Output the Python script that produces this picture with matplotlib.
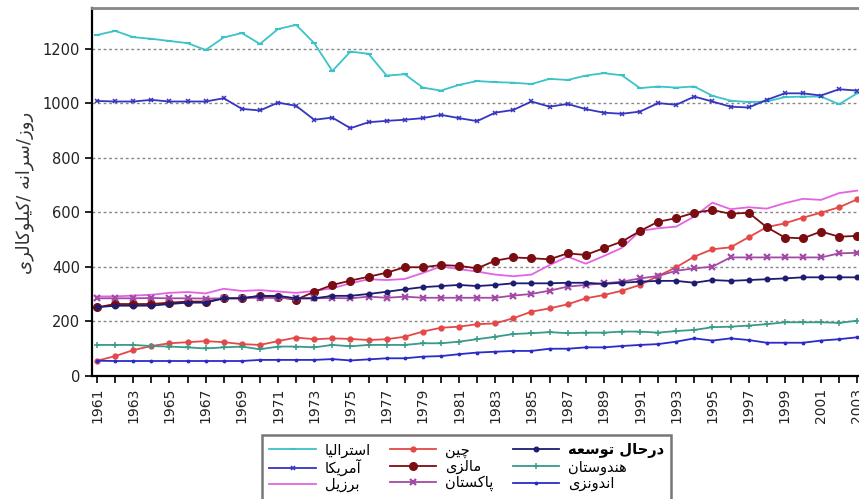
import matplotlib
matplotlib.use("Agg")
import matplotlib.pyplot as plt
from matplotlib.ticker import MultipleLocator

# --- data (kcal / capita / day) ---
years = list(range(1961, 2004))

australia = [1251, 1266, 1243, 1237, 1229, 1221, 1196, 1242, 1258, 1218,
             1273, 1288, 1221, 1119, 1190, 1182, 1102, 1107, 1058, 1047,
             1068, 1082, 1078, 1076, 1071, 1090, 1086, 1102, 1111, 1103,
             1056, 1062, 1058, 1062, 1028, 1010, 1005, 1007, 1023, 1025,
             1025, 997, 1037]
usa = [1009, 1007, 1007, 1013, 1007, 1007, 1007, 1019, 980, 974,
       1003, 991, 940, 948, 909, 931, 936, 940, 946, 958,
       946, 935, 966, 976, 1007, 988, 998, 979, 966, 962,
       970, 1001, 995, 1025, 1007, 988, 985, 1013, 1037, 1037,
       1029, 1052, 1047]
brazil = [292, 292, 295, 298, 305, 308, 303, 320, 312, 315,
          310, 305, 312, 322, 340, 355, 352, 356, 378, 402,
          392, 383, 372, 366, 372, 407, 438, 412, 440, 470,
          532, 542, 548, 585, 636, 612, 619, 614, 634, 650,
          646, 671, 680]
china = [56, 73, 95, 110, 120, 124, 128, 124, 117, 114,
         128, 141, 135, 138, 136, 132, 135, 144, 163, 177,
         181, 190, 193, 212, 236, 248, 263, 285, 297, 313,
         334, 367, 399, 438, 465, 472, 509, 546, 560, 581,
         599, 619, 648]
malaysia = [252, 264, 264, 264, 269, 273, 273, 285, 285, 294,
            289, 280, 309, 334, 350, 364, 379, 399, 399, 407,
            404, 395, 423, 435, 432, 428, 450, 444, 469, 493,
            532, 566, 579, 599, 609, 595, 599, 546, 508, 505,
            530, 511, 514]
pakistan = [285, 285, 285, 286, 285, 285, 284, 285, 286, 287,
            286, 285, 285, 286, 285, 291, 287, 291, 287, 287,
            287, 287, 287, 295, 301, 313, 328, 334, 340, 346,
            358, 367, 386, 395, 401, 435, 435, 435, 435, 435,
            435, 450, 452]
developing = [252, 258, 258, 258, 264, 269, 269, 285, 285, 294,
              294, 285, 285, 294, 294, 301, 309, 318, 326, 330,
              334, 330, 334, 340, 340, 340, 342, 342, 338, 342,
              346, 349, 349, 342, 352, 349, 352, 355, 358, 362,
              362, 362, 362]
india = [114, 114, 114, 110, 108, 105, 101, 105, 108, 98,
         108, 108, 105, 114, 109, 114, 114, 114, 120, 120,
         126, 135, 144, 154, 157, 161, 157, 159, 159, 163,
         163, 159, 165, 169, 179, 181, 185, 190, 197, 197,
         197, 195, 203]
indonesia = [56, 55, 55, 55, 55, 55, 55, 55, 55, 59,
             59, 59, 59, 62, 57, 61, 65, 65, 71, 73,
             80, 86, 89, 92, 92, 100, 100, 105, 105, 110,
             114, 117, 126, 138, 130, 138, 132, 122, 122, 122,
             130, 135, 142]

names = ['استرالیا', 'آمریکا', 'برزیل', 'چین', 'مالزی', 'پاکستان',
         'درحال توسعه', 'هندوستان', 'اندونزی']
ylabel = 'روز/سرانه /کیلوکالری'

# --- minimal Persian shaping (matplotlib has no bidi / joining) ---
FORMS = {
    'ا': ('\uFE8D', '\uFE8E', None, None),
    'آ': ('\uFE81', '\uFE82', None, None),
    'ب': ('\uFE8F', '\uFE90', '\uFE91', '\uFE92'),
    'پ': ('\uFB56', '\uFB57', '\uFB58', '\uFB59'),
    'ت': ('\uFE95', '\uFE96', '\uFE97', '\uFE98'),
    'ح': ('\uFEA1', '\uFEA2', '\uFEA3', '\uFEA4'),
    'چ': ('\uFB7A', '\uFB7B', '\uFB7C', '\uFB7D'),
    'د': ('\uFEA9', '\uFEAA', None, None),
    'ر': ('\uFEAD', '\uFEAE', None, None),
    'ز': ('\uFEAF', '\uFEB0', None, None),
    'س': ('\uFEB1', '\uFEB2', '\uFEB3', '\uFEB4'),
    'ع': ('\uFEC9', '\uFECA', '\uFECB', '\uFECC'),
    'ک': ('\uFB8E', '\uFB8F', '\uFB90', '\uFB91'),
    'ل': ('\uFEDD', '\uFEDE', '\uFEDF', '\uFEE0'),
    'م': ('\uFEE1', '\uFEE2', '\uFEE3', '\uFEE4'),
    'ن': ('\uFEE5', '\uFEE6', '\uFEE7', '\uFEE8'),
    'ه': ('\uFEE9', '\uFEEA', '\uFEEB', '\uFEEC'),
    'و': ('\uFEED', '\uFEEE', None, None),
    'ی': ('\uFBFC', '\uFBFD', '\uFBFE', '\uFBFF'),
}
RIGHT_ONLY = set('اآدذرزژو')


def fa(s):
    out = []
    for i, ch in enumerate(s):
        if ch not in FORMS:
            out.append(ch)
            continue
        prev = s[i - 1] if i > 0 else ''
        nxt = s[i + 1] if i + 1 < len(s) else ''
        jp = prev in FORMS and prev not in RIGHT_ONLY
        jn = nxt in FORMS and ch not in RIGHT_ONLY
        iso, fin, ini, med = FORMS[ch]
        if jp and jn:
            out.append(med)
        elif jp:
            out.append(fin)
        elif jn:
            out.append(ini)
        else:
            out.append(iso)
    return ''.join(reversed(out))


plt.rcParams['font.family'] = ['DejaVu Sans']

fig = plt.figure(figsize=(8.59, 4.99), dpi=100)
ax = fig.add_axes([92 / 859, 123 / 499, 767 / 859, 368 / 499])

series = [
    (australia, dict(color='#3cc3c9', marker='_', ms=4, mew=1.5)),
    (usa, dict(color='#3535c0', marker='x', ms=3.5, mew=1.1)),
    (brazil, dict(color='#e463e4', marker=None)),
    (china, dict(color='#e54848', marker='o', ms=3.5)),
    (malaysia, dict(color='#7a0d12', marker='o', ms=5.5)),
    (pakistan, dict(color='#a14aa6', marker='x', ms=5, mew=1.6)),
    (developing, dict(color='#1c1c70', marker='o', ms=3.3)),
    (india, dict(color='#399a88', marker='+', ms=4.5, mew=1.1)),
    (indonesia, dict(color='#2b2bc8', marker='.', ms=3.5)),
]

handles = []
for (vals, st), name in zip(series, names):
    h, = ax.plot(years, vals, lw=1.3, label=fa(name), **st)
    handles.append(h)

ax.set_xlim(1960.72, 2003.1)
ax.set_ylim(0, 1350)
ax.set_yticks(range(0, 1201, 200))
ax.set_xticks(range(1961, 2004, 2))
ax.xaxis.set_minor_locator(MultipleLocator(1))
ax.tick_params(axis='x', which='both', direction='out', length=5, width=1.2,
               labelrotation=90, labelsize=10)
ax.tick_params(axis='y', direction='out', length=5, width=1.2, labelsize=10.5)
for lab in ax.get_xticklabels() + ax.get_yticklabels():
    lab.set_color('#222222')

ax.grid(axis='y', color='#888888', linestyle=(0, (2, 2)), linewidth=1)
ax.set_axisbelow(True)

ax.spines['left'].set_linewidth(1.6)
ax.spines['bottom'].set_linewidth(1.6)
ax.spines['right'].set_visible(False)
ax.spines['top'].set_color('#888888')
ax.spines['top'].set_linewidth(2)

fig.text(25 / 859, 1 - 193 / 499, fa(ylabel), rotation=90, fontsize=13,
         ha='center', va='center', color='#333333')

leg = fig.legend(handles=handles, ncol=3, loc='upper left',
                 bbox_to_anchor=(262 / 859, 1 - 435 / 499), borderaxespad=0,
                 fontsize=10.5, handlelength=3.2, handletextpad=0.6,
                 columnspacing=1.3, labelspacing=0.08, frameon=True,
                 fancybox=False, edgecolor='#555555', borderpad=0.5)
leg.get_frame().set_linewidth(1.8)
leg.get_texts()[6].set_fontweight('bold')

fig.savefig('out.png', dpi=100)
